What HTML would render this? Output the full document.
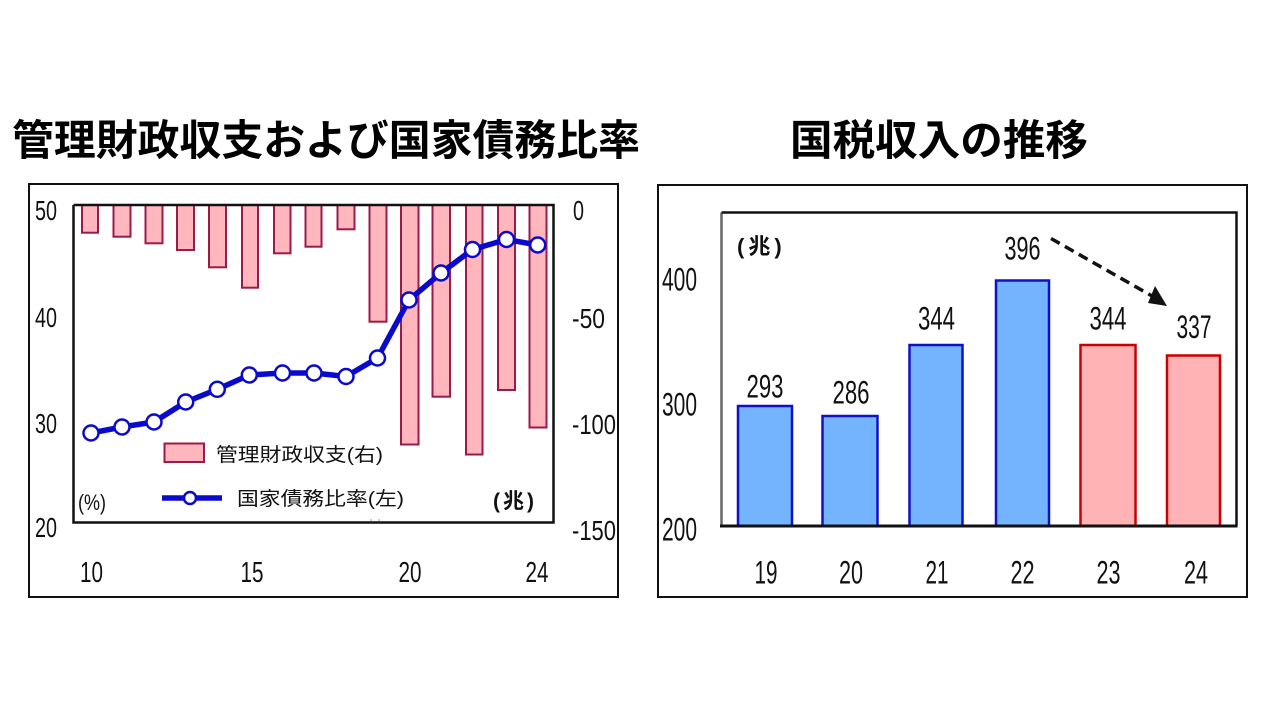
<!DOCTYPE html>
<html><head><meta charset="utf-8"><style>
html,body{margin:0;padding:0;background:#fff;width:1280px;height:720px;overflow:hidden}
svg{display:block}
.n{font-family:"Liberation Sans","Noto Sans CJK JP",sans-serif;fill:#111}
.j{font-family:"Liberation Sans","Noto Sans CJK JP",sans-serif;fill:#111}
.t{font-family:"Noto Sans CJK JP","Liberation Sans",sans-serif;font-weight:bold;fill:#000}
</style></head><body>
<svg width="1280" height="720" viewBox="0 0 1280 720" xmlns="http://www.w3.org/2000/svg">
<rect width="1280" height="720" fill="#fff"/>
<!-- Titles -->
<text class="t" x="12" y="155" font-size="42" textLength="628" lengthAdjust="spacingAndGlyphs">管理財政収支および国家債務比率</text>
<text class="t" x="790" y="155" font-size="42" textLength="298" lengthAdjust="spacingAndGlyphs">国税収入の推移</text>

<!-- LEFT CHART -->
<rect x="29" y="184" width="589" height="413" fill="none" stroke="#111" stroke-width="2"/>
<g fill="#ffb7bd" stroke="#9c1a4a" stroke-width="2">
<rect x="82" y="205" width="16" height="27.7"/>
<rect x="113.5" y="205" width="17" height="31.7"/>
<rect x="145.5" y="205" width="17" height="38.3"/>
<rect x="177" y="205" width="17" height="45"/>
<rect x="209" y="205" width="17" height="62.3"/>
<rect x="242" y="205" width="16" height="82.7"/>
<rect x="274" y="205" width="16.5" height="48.3"/>
<rect x="305.5" y="205" width="16" height="41.7"/>
<rect x="337.5" y="205" width="17" height="24.3"/>
<rect x="369.5" y="205" width="17" height="116.7"/>
<rect x="401" y="205" width="17.5" height="239.5"/>
<rect x="432.5" y="205" width="17.5" height="191.7"/>
<rect x="466" y="205" width="16.5" height="249.5"/>
<rect x="498" y="205" width="17" height="185"/>
<rect x="529.5" y="205" width="17" height="222.5"/>
</g>
<!-- plot frame -->
<polyline points="73.5,205 73.5,522.5 553.5,522.5 553.5,205 73.5,205" fill="none" stroke="#111" stroke-width="2.5"/>
<!-- line -->
<polyline points="91,433 122,427 154,422 185.7,402 217.3,389.3 249.3,375 282.5,373 314,373 346,376.5 377.5,358 409,300 441,273 472.5,249.5 506.5,239.5 537.7,245" fill="none" stroke="#0a0acd" stroke-width="5.5" stroke-linejoin="round"/>
<g fill="#fff" stroke="#0a0acd" stroke-width="2.5">
<circle cx="91" cy="433" r="7.5"/><circle cx="122" cy="427" r="7.5"/><circle cx="154" cy="422" r="7.5"/>
<circle cx="185.7" cy="402" r="7.5"/><circle cx="217.3" cy="389.3" r="7.5"/><circle cx="249.3" cy="375" r="7.5"/>
<circle cx="282.5" cy="373" r="7.5"/><circle cx="314" cy="373" r="7.5"/><circle cx="346" cy="376.5" r="7.5"/>
<circle cx="377.5" cy="358" r="7.5"/><circle cx="409" cy="300" r="7.5"/><circle cx="441" cy="273" r="7.5"/>
<circle cx="472.5" cy="249.5" r="7.5"/><circle cx="506.5" cy="239.5" r="7.5"/><circle cx="537.7" cy="245" r="7.5"/>
</g>
<!-- left axis labels -->
<g class="n" font-size="28">
<text x="35" y="220" textLength="22" lengthAdjust="spacingAndGlyphs">50</text>
<text x="35" y="327" textLength="22" lengthAdjust="spacingAndGlyphs">40</text>
<text x="35" y="433" textLength="22" lengthAdjust="spacingAndGlyphs">30</text>
<text x="35" y="537" textLength="22" lengthAdjust="spacingAndGlyphs">20</text>
<text x="573" y="220" textLength="11" lengthAdjust="spacingAndGlyphs">0</text>
<text x="572" y="328" textLength="33" lengthAdjust="spacingAndGlyphs">-50</text>
<text x="572" y="434" textLength="44" lengthAdjust="spacingAndGlyphs">-100</text>
<text x="572" y="540" textLength="44" lengthAdjust="spacingAndGlyphs">-150</text>
</g>
<g class="n" font-size="29">
<text x="80" y="582" textLength="23" lengthAdjust="spacingAndGlyphs">10</text>
<text x="240.5" y="582" textLength="23" lengthAdjust="spacingAndGlyphs">15</text>
<text x="398.5" y="582" textLength="23" lengthAdjust="spacingAndGlyphs">20</text>
<text x="525.5" y="582" textLength="23" lengthAdjust="spacingAndGlyphs">24</text>
</g>
<!-- legend -->
<rect x="164.5" y="443.5" width="39.5" height="18.5" fill="#ffb7bd" stroke="#9c1a4a" stroke-width="2"/>
<text class="j" x="216" y="461" font-size="19" textLength="167" lengthAdjust="spacingAndGlyphs">管理財政収支(右)</text>
<line x1="162" y1="498" x2="222" y2="498" stroke="#0a0acd" stroke-width="5.5"/>
<circle cx="190" cy="498" r="6" fill="#fff" stroke="#0a0acd" stroke-width="2.5"/>
<text class="j" x="237" y="505" font-size="19" textLength="167" lengthAdjust="spacingAndGlyphs">国家債務比率(左)</text>
<text class="n" x="78" y="510" font-size="22" textLength="28" lengthAdjust="spacingAndGlyphs">(%)</text>
<text class="j" x="493" y="508" font-size="21" font-weight="bold" letter-spacing="3">(兆)</text>
<circle cx="371" cy="520" r="0.8" fill="#888"/><circle cx="379" cy="520" r="0.8" fill="#888"/>

<!-- RIGHT CHART -->
<rect x="658" y="185" width="589" height="412" fill="none" stroke="#111" stroke-width="2"/>
<g stroke-width="2.5">
<rect x="738" y="406" width="54" height="120" fill="#74b4ff" stroke="#1010c8"/>
<rect x="822.5" y="416" width="55" height="110" fill="#74b4ff" stroke="#1010c8"/>
<rect x="909.5" y="345" width="53" height="181" fill="#74b4ff" stroke="#1010c8"/>
<rect x="996" y="280.5" width="53" height="245.5" fill="#74b4ff" stroke="#1010c8"/>
<rect x="1080.5" y="345" width="55" height="181" fill="#ffb3b5" stroke="#cc0000"/>
<rect x="1167" y="355.5" width="53" height="170.5" fill="#ffb3b5" stroke="#cc0000"/>
</g>
<line x1="721.5" y1="212.5" x2="721.5" y2="526" stroke="#666" stroke-width="2.5"/>
<polyline points="721.5,212.5 1236.5,212.5 1236.5,526" fill="none" stroke="#111" stroke-width="2.5"/>
<line x1="720" y1="526" x2="1237.5" y2="526" stroke="#111" stroke-width="3"/>
<!-- arrow -->
<line x1="1051" y1="238.5" x2="1152" y2="296" stroke="#111" stroke-width="3.5" stroke-dasharray="10,6"/>
<polygon points="1167,306 1155,286 1148,303" fill="#111"/>
<!-- value labels -->
<g class="n" font-size="32" text-anchor="middle">
<text x="765" y="397.5" textLength="37" lengthAdjust="spacingAndGlyphs">293</text>
<text x="851" y="403.5" textLength="37" lengthAdjust="spacingAndGlyphs">286</text>
<text x="936.5" y="329.5" textLength="37" lengthAdjust="spacingAndGlyphs">344</text>
<text x="1022.5" y="259.5" textLength="36" lengthAdjust="spacingAndGlyphs">396</text>
<text x="1108" y="329.5" textLength="37" lengthAdjust="spacingAndGlyphs">344</text>
<text x="1194" y="338" textLength="35" lengthAdjust="spacingAndGlyphs">337</text>
</g>
<g class="n" font-size="32">
<text x="662" y="290.5" textLength="35" lengthAdjust="spacingAndGlyphs">400</text>
<text x="662" y="415.5" textLength="35" lengthAdjust="spacingAndGlyphs">300</text>
<text x="662" y="540.5" textLength="35" lengthAdjust="spacingAndGlyphs">200</text>
</g>
<g class="n" font-size="32" text-anchor="middle">
<text x="766" y="583.5" textLength="23" lengthAdjust="spacingAndGlyphs">19</text>
<text x="851" y="583.5" textLength="24" lengthAdjust="spacingAndGlyphs">20</text>
<text x="937" y="583.5" textLength="23" lengthAdjust="spacingAndGlyphs">21</text>
<text x="1022.5" y="583.5" textLength="24" lengthAdjust="spacingAndGlyphs">22</text>
<text x="1108.5" y="583.5" textLength="24" lengthAdjust="spacingAndGlyphs">23</text>
<text x="1196" y="583.5" textLength="24" lengthAdjust="spacingAndGlyphs">24</text>
</g>
<text class="j" x="737" y="254" font-size="22" font-weight="bold" letter-spacing="4">(兆)</text>
</svg>
</body></html>
